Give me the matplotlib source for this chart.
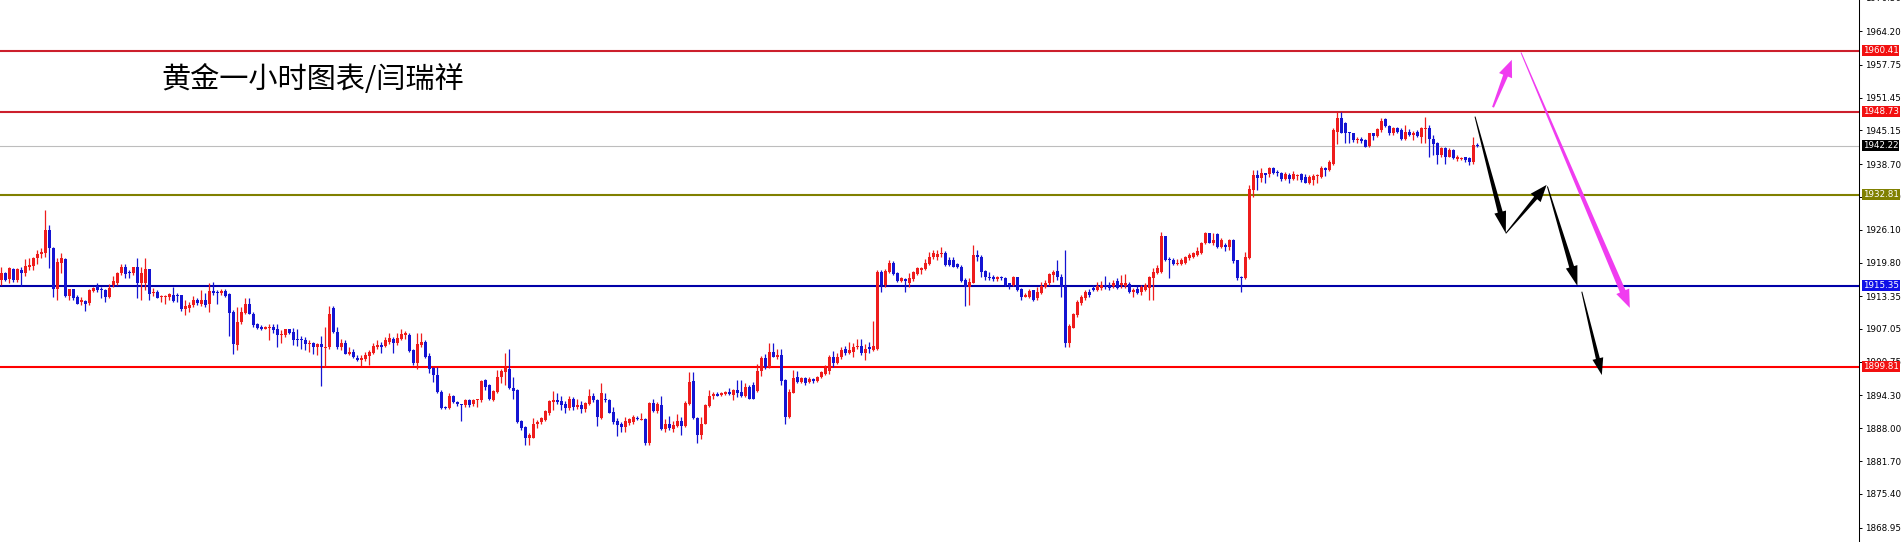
import numpy as np
import matplotlib.pyplot as plt
from matplotlib.patches import Polygon
from matplotlib.transforms import IdentityTransform

plt.rcParams['font.family'] = ['Noto Sans CJK SC', 'DejaVu Sans']

# hourly gold candles (oldest first)
opens = [
    1916.5, 1917.7, 1916.7, 1918.5, 1916.5, 1918.3, 1917.7, 1918.9, 1919.1, 1920.6,
    1921.5, 1921.7, 1926.0, 1922.6, 1914.8, 1919.7, 1920.5, 1913.3, 1914.7, 1913.2,
    1912.3, 1912.4, 1912.1, 1914.4, 1915.3, 1914.6, 1914.6, 1913.2, 1915.5, 1915.9,
    1917.7, 1918.9, 1917.8, 1917.7, 1918.9, 1915.9, 1915.8, 1918.5, 1913.9, 1914.1,
    1913.1, 1913.1, 1913.2, 1913.5, 1913.5, 1913.5, 1910.8, 1911.1, 1911.7, 1912.6,
    1911.9, 1912.7, 1911.9, 1914.3, 1914.2, 1913.9, 1914.3, 1913.7, 1910.3, 1903.9,
    1908.4, 1910.1, 1911.8, 1910.0, 1908.1, 1907.5, 1907.1, 1907.3, 1907.5, 1907.0,
    1905.9, 1905.8, 1907.0, 1906.5, 1905.0, 1905.0, 1904.9, 1904.1, 1904.4, 1903.5,
    1904.1, 1903.4, 1903.5, 1911.0, 1906.5, 1903.5, 1904.4, 1902.2, 1902.7, 1901.5,
    1901.1, 1901.2, 1901.9, 1902.5, 1903.5, 1903.9, 1903.7, 1904.6, 1905.2, 1904.4,
    1905.2, 1905.9, 1905.9, 1903.1, 1900.5, 1903.9, 1904.6, 1901.8, 1899.5, 1898.2,
    1895.0, 1892.1, 1891.8, 1894.2, 1893.1, 1892.6, 1892.4, 1893.5, 1892.6, 1893.4,
    1893.4, 1897.2, 1896.3, 1893.5, 1895.0, 1897.8, 1898.7, 1899.3, 1895.8, 1895.3,
    1889.4, 1888.3, 1886.1, 1886.2, 1888.9, 1889.2, 1889.6, 1891.0, 1893.1, 1893.4,
    1893.2, 1892.6, 1891.8, 1893.7, 1892.0, 1892.5, 1891.6, 1892.6, 1894.2, 1893.5,
    1889.9, 1893.7, 1893.5, 1891.2, 1889.4, 1888.9, 1888.3, 1889.1, 1889.2, 1889.9,
    1889.6, 1889.7, 1885.1, 1892.9, 1891.4, 1892.5, 1887.8, 1888.8, 1887.8, 1888.4,
    1889.4, 1888.4, 1892.6, 1897.1, 1889.9, 1886.7, 1888.9, 1892.3, 1894.2, 1894.6,
    1894.4, 1894.6, 1895.0, 1894.4, 1895.3, 1895.0, 1894.2, 1896.0, 1896.3, 1895.2,
    1898.9, 1901.4, 1899.8, 1902.7, 1901.7, 1902.0, 1897.2, 1890.2, 1894.8, 1897.9,
    1896.9, 1897.6, 1896.9, 1897.4, 1897.1, 1897.8, 1898.4, 1898.9, 1901.6, 1900.6,
    1901.6, 1903.3, 1902.4, 1902.7, 1903.5, 1903.8, 1902.5, 1903.5, 1903.1, 1903.3,
    1918.0, 1915.5, 1918.0, 1919.8, 1917.7, 1916.3, 1916.6, 1915.8, 1916.6, 1917.6,
    1918.4, 1918.5, 1919.6, 1920.8, 1920.8, 1921.4, 1921.6, 1920.3, 1920.3, 1919.5,
    1919.0, 1916.4, 1915.2, 1915.9, 1921.2, 1920.9, 1918.2, 1917.1, 1917.0, 1916.6,
    1917.1, 1916.8, 1915.8, 1915.5, 1917.0, 1914.8, 1913.2, 1913.2, 1914.5, 1912.9,
    1914.0, 1915.2, 1915.8, 1917.4, 1918.2, 1917.1, 1915.3, 1904.4, 1907.3, 1909.7,
    1912.0, 1912.9, 1914.2, 1915.0, 1914.5, 1915.0, 1915.5, 1915.3, 1915.3, 1916.3,
    1915.5, 1915.3, 1915.7, 1914.2, 1914.8, 1914.2, 1914.6, 1915.0, 1916.8, 1917.8,
    1918.0, 1924.8, 1920.4, 1920.3, 1919.5, 1919.5, 1919.8, 1920.6, 1920.9, 1921.2,
    1921.7, 1923.6, 1925.4, 1923.6, 1925.3, 1922.8, 1923.2, 1922.7, 1924.2, 1920.2,
    1917.1, 1916.8, 1920.6, 1933.7, 1936.6, 1936.0, 1936.9, 1936.8, 1937.9, 1937.2,
    1937.0, 1935.8, 1936.6, 1935.8, 1936.4, 1936.8, 1936.3, 1935.1, 1935.6, 1936.4,
    1936.3, 1937.9, 1937.6, 1938.7, 1944.9, 1947.5, 1946.5, 1944.7, 1944.6, 1943.3,
    1943.6, 1943.4, 1942.2, 1944.6, 1944.1, 1945.2, 1947.3, 1946.0, 1944.7, 1945.6,
    1945.2, 1943.6, 1944.9, 1944.3, 1944.9, 1943.8, 1945.4, 1945.6, 1943.6, 1942.8,
    1940.4, 1941.7, 1940.1, 1941.3, 1939.6, 1939.7, 1940.0, 1939.8, 1939.0, 1942.4,
]
highs = [
    1918.9, 1918.0, 1918.9, 1918.7, 1918.7, 1919.0, 1920.4, 1920.6, 1920.9, 1922.2,
    1922.5, 1929.9, 1927.0, 1922.8, 1920.6, 1921.7, 1920.6, 1914.8, 1914.8, 1913.5,
    1913.2, 1912.6, 1914.8, 1915.1, 1915.8, 1915.1, 1914.8, 1915.6, 1917.2, 1918.0,
    1919.5, 1919.5, 1918.3, 1919.0, 1920.6, 1919.0, 1920.6, 1918.6, 1915.0, 1914.5,
    1913.5, 1913.5, 1913.9, 1915.1, 1913.9, 1913.5, 1912.6, 1912.3, 1913.3, 1912.9,
    1914.5, 1913.9, 1915.8, 1916.1, 1914.6, 1914.8, 1914.8, 1913.9, 1910.7, 1911.3,
    1911.3, 1912.9, 1912.9, 1910.3, 1908.2, 1907.8, 1907.6, 1908.1, 1908.1, 1908.0,
    1906.8, 1907.1, 1907.1, 1907.3, 1907.0, 1905.7, 1905.5, 1904.9, 1904.6, 1904.3,
    1905.7, 1907.5, 1911.4, 1911.4, 1907.5, 1905.2, 1905.0, 1903.5, 1903.3, 1902.0,
    1902.0, 1902.7, 1903.1, 1904.4, 1905.0, 1904.6, 1905.5, 1906.3, 1905.5, 1906.3,
    1907.0, 1906.7, 1906.3, 1903.3, 1906.2, 1906.2, 1904.9, 1902.5, 1899.7, 1899.7,
    1895.3, 1892.2, 1894.7, 1894.3, 1893.3, 1892.7, 1893.7, 1893.7, 1893.7, 1893.7,
    1897.3, 1897.5, 1896.5, 1895.3, 1899.2, 1899.3, 1902.5, 1903.3, 1897.9, 1895.6,
    1889.6, 1888.4, 1887.0, 1889.9, 1889.6, 1890.2, 1891.5, 1893.5, 1895.1, 1894.8,
    1894.1, 1893.3, 1894.1, 1893.9, 1893.7, 1893.3, 1893.1, 1895.5, 1894.8, 1893.7,
    1896.7, 1894.8, 1893.7, 1892.0, 1889.9, 1889.2, 1890.1, 1889.9, 1890.5, 1890.3,
    1891.0, 1889.9, 1893.1, 1893.7, 1893.1, 1894.1, 1889.7, 1890.3, 1889.4, 1890.7,
    1890.1, 1893.3, 1898.7, 1898.7, 1890.2, 1890.2, 1892.6, 1895.3, 1895.0, 1895.0,
    1895.0, 1895.1, 1895.8, 1895.6, 1897.2, 1897.2, 1896.6, 1896.3, 1896.9, 1900.3,
    1901.8, 1902.2, 1904.3, 1904.3, 1903.3, 1903.3, 1897.4, 1895.6, 1899.1, 1898.9,
    1897.9, 1897.9, 1897.8, 1897.6, 1898.0, 1898.9, 1900.1, 1902.0, 1902.9, 1902.4,
    1903.6, 1903.8, 1904.6, 1904.4, 1905.2, 1905.1, 1904.2, 1904.6, 1908.6, 1918.4,
    1918.4, 1918.5, 1920.3, 1920.0, 1918.0, 1917.1, 1916.8, 1917.7, 1918.2, 1919.0,
    1919.0, 1920.4, 1921.9, 1922.2, 1922.3, 1922.7, 1922.1, 1920.8, 1920.9, 1919.8,
    1919.3, 1916.8, 1916.8, 1923.2, 1922.2, 1921.2, 1918.4, 1918.0, 1917.4, 1917.2,
    1917.2, 1917.0, 1915.9, 1917.2, 1917.1, 1915.0, 1914.0, 1914.8, 1914.6, 1915.2,
    1916.1, 1916.4, 1917.8, 1918.4, 1920.2, 1917.6, 1922.2, 1908.1, 1910.2, 1912.6,
    1913.6, 1914.5, 1914.8, 1915.5, 1916.1, 1916.3, 1917.2, 1916.1, 1916.4, 1916.8,
    1917.4, 1917.6, 1916.1, 1915.0, 1915.3, 1915.5, 1915.8, 1917.2, 1918.7, 1919.3,
    1925.7, 1924.9, 1920.8, 1920.6, 1920.4, 1920.6, 1921.0, 1921.6, 1921.9, 1922.8,
    1923.8, 1925.7, 1925.5, 1925.4, 1925.4, 1924.6, 1923.6, 1924.4, 1924.4, 1920.3,
    1917.2, 1921.9, 1934.7, 1937.6, 1937.6, 1937.9, 1937.0, 1938.1, 1938.1, 1937.6,
    1937.2, 1937.2, 1936.9, 1937.4, 1936.8, 1936.9, 1936.8, 1936.6, 1936.8, 1936.8,
    1938.3, 1938.2, 1939.4, 1945.6, 1948.6, 1948.6, 1946.8, 1944.9, 1944.7, 1943.8,
    1943.8, 1943.6, 1944.7, 1944.7, 1945.6, 1947.5, 1947.5, 1946.2, 1945.9, 1945.9,
    1945.6, 1946.2, 1945.4, 1945.1, 1945.2, 1945.9, 1947.8, 1946.2, 1944.3, 1943.0,
    1942.0, 1942.0, 1941.7, 1941.5, 1940.4, 1940.1, 1940.1, 1940.0, 1943.8, 1942.7,
]
lows = [
    1915.5, 1916.3, 1915.8, 1916.1, 1916.1, 1915.3, 1917.2, 1918.3, 1918.3, 1919.5,
    1920.6, 1920.9, 1918.7, 1913.2, 1912.6, 1917.7, 1913.2, 1912.6, 1912.7, 1911.8,
    1911.6, 1910.5, 1911.6, 1914.2, 1914.2, 1912.9, 1912.3, 1912.9, 1915.1, 1915.5,
    1917.4, 1916.9, 1916.9, 1917.4, 1912.9, 1912.7, 1914.5, 1912.7, 1913.3, 1912.9,
    1912.3, 1911.9, 1912.6, 1912.3, 1912.3, 1910.5, 1909.7, 1910.3, 1911.3, 1911.6,
    1911.4, 1911.3, 1910.3, 1913.5, 1911.9, 1913.5, 1913.1, 1905.7, 1902.3, 1903.0,
    1908.1, 1910.0, 1909.9, 1907.5, 1907.0, 1906.8, 1907.0, 1904.9, 1906.2, 1903.5,
    1904.4, 1905.5, 1906.1, 1903.9, 1903.7, 1903.3, 1903.1, 1902.7, 1902.3, 1902.0,
    1896.1, 1899.8, 1903.3, 1906.3, 1903.3, 1903.1, 1902.2, 1902.0, 1901.4, 1900.9,
    1899.9, 1900.9, 1900.1, 1902.2, 1903.3, 1902.5, 1903.5, 1904.1, 1902.5, 1903.9,
    1905.0, 1905.2, 1902.7, 1900.1, 1899.3, 1903.5, 1901.4, 1898.6, 1896.9, 1894.8,
    1891.6, 1891.6, 1891.6, 1892.9, 1892.2, 1889.4, 1892.0, 1892.1, 1892.2, 1892.1,
    1893.1, 1895.3, 1893.5, 1893.3, 1894.8, 1896.6, 1896.3, 1895.6, 1893.7, 1889.1,
    1887.6, 1884.8, 1884.8, 1886.1, 1888.0, 1888.9, 1889.4, 1890.5, 1891.5, 1892.6,
    1891.5, 1891.0, 1891.5, 1891.5, 1891.6, 1891.0, 1891.2, 1892.5, 1893.1, 1888.4,
    1889.7, 1893.1, 1890.9, 1888.9, 1886.5, 1887.3, 1887.3, 1888.6, 1888.8, 1889.6,
    1889.6, 1884.8, 1884.8, 1891.2, 1891.0, 1887.6, 1887.3, 1887.6, 1887.3, 1888.2,
    1886.7, 1888.2, 1892.5, 1889.7, 1885.1, 1885.9, 1888.8, 1892.0, 1893.7, 1894.1,
    1894.1, 1894.4, 1894.4, 1893.4, 1894.0, 1894.0, 1894.0, 1893.6, 1893.6, 1895.0,
    1898.0, 1899.3, 1899.5, 1901.6, 1901.2, 1896.3, 1888.9, 1889.9, 1894.7, 1896.6,
    1896.6, 1896.3, 1896.6, 1896.7, 1896.9, 1897.6, 1898.2, 1898.5, 1899.8, 1900.3,
    1901.2, 1902.0, 1902.2, 1901.6, 1903.3, 1902.0, 1901.0, 1902.5, 1902.9, 1903.1,
    1914.2, 1915.2, 1917.7, 1917.4, 1916.1, 1916.1, 1914.2, 1915.2, 1916.3, 1917.4,
    1917.6, 1918.4, 1919.3, 1920.4, 1920.3, 1920.9, 1919.1, 1919.1, 1918.9, 1918.7,
    1916.1, 1911.4, 1911.6, 1915.8, 1920.0, 1917.0, 1916.4, 1916.4, 1916.3, 1916.3,
    1916.4, 1915.3, 1914.8, 1915.3, 1914.4, 1912.7, 1913.1, 1912.9, 1912.5, 1912.7,
    1913.8, 1915.0, 1915.5, 1916.1, 1916.4, 1913.1, 1903.5, 1903.6, 1907.2, 1909.4,
    1911.6, 1912.7, 1913.2, 1914.4, 1914.4, 1914.6, 1914.8, 1914.6, 1915.0, 1914.8,
    1915.0, 1915.0, 1914.0, 1913.2, 1913.8, 1913.6, 1914.4, 1912.7, 1912.6, 1917.6,
    1917.8, 1920.0, 1916.8, 1919.3, 1919.3, 1919.3, 1919.5, 1920.3, 1920.6, 1921.0,
    1921.4, 1923.4, 1923.5, 1923.2, 1922.5, 1922.5, 1922.1, 1922.3, 1919.8, 1916.4,
    1914.2, 1916.6, 1920.4, 1932.4, 1933.7, 1935.3, 1935.0, 1936.2, 1936.8, 1936.4,
    1935.5, 1935.6, 1935.1, 1935.6, 1935.6, 1935.3, 1935.0, 1934.9, 1934.7, 1935.1,
    1936.0, 1936.4, 1937.4, 1938.5, 1942.6, 1944.6, 1942.8, 1942.8, 1943.0, 1942.7,
    1942.8, 1941.9, 1942.0, 1943.4, 1943.8, 1944.9, 1945.9, 1944.3, 1944.3, 1944.7,
    1943.3, 1943.4, 1944.1, 1943.4, 1943.8, 1942.8, 1942.8, 1940.1, 1940.4, 1938.8,
    1940.1, 1938.8, 1940.0, 1939.6, 1939.2, 1939.5, 1939.0, 1938.5, 1938.8, 1942.0,
]
closes = [
    1917.8, 1916.5, 1918.7, 1916.4, 1918.5, 1917.8, 1919.1, 1919.3, 1920.6, 1921.5,
    1921.9, 1926.0, 1922.5, 1914.8, 1919.9, 1920.6, 1913.3, 1914.7, 1912.9, 1911.9,
    1912.7, 1911.9, 1914.5, 1915.0, 1914.6, 1914.5, 1913.2, 1915.0, 1916.3, 1917.8,
    1919.0, 1917.6, 1917.7, 1918.9, 1915.8, 1917.7, 1918.5, 1913.7, 1914.1, 1913.0,
    1913.2, 1913.4, 1913.7, 1912.4, 1913.3, 1910.8, 1911.4, 1911.7, 1912.6, 1912.1,
    1912.7, 1911.6, 1914.3, 1913.9, 1913.9, 1914.3, 1913.3, 1910.1, 1904.1, 1908.4,
    1910.3, 1911.8, 1910.0, 1907.8, 1907.3, 1907.1, 1907.5, 1907.5, 1906.8, 1905.9,
    1906.1, 1907.0, 1906.3, 1905.0, 1904.9, 1904.9, 1904.1, 1904.4, 1903.6, 1904.1,
    1903.5, 1903.6, 1909.9, 1906.5, 1903.5, 1904.4, 1902.3, 1902.7, 1901.6, 1901.1,
    1901.4, 1902.0, 1902.7, 1903.7, 1903.9, 1903.6, 1905.0, 1905.4, 1904.4, 1905.4,
    1906.1, 1906.2, 1902.9, 1900.5, 1904.1, 1904.6, 1901.7, 1899.3, 1898.2, 1895.0,
    1891.8, 1891.8, 1894.2, 1893.1, 1892.6, 1892.4, 1893.5, 1892.4, 1893.5, 1893.5,
    1897.1, 1895.9, 1893.7, 1895.1, 1897.9, 1898.9, 1899.5, 1895.8, 1895.2, 1889.2,
    1888.0, 1886.1, 1886.7, 1888.9, 1889.2, 1889.9, 1891.3, 1893.2, 1893.4, 1893.1,
    1892.5, 1891.8, 1893.7, 1892.0, 1892.5, 1891.6, 1892.8, 1894.2, 1893.4, 1890.1,
    1894.7, 1893.5, 1891.0, 1889.2, 1888.6, 1888.3, 1889.4, 1889.7, 1890.1, 1889.7,
    1889.8, 1885.2, 1892.9, 1891.4, 1892.6, 1887.8, 1888.8, 1888.0, 1888.6, 1889.4,
    1888.4, 1892.9, 1896.9, 1889.9, 1886.7, 1888.9, 1892.5, 1894.2, 1894.6, 1894.2,
    1894.7, 1895.0, 1894.6, 1895.3, 1894.7, 1894.2, 1896.0, 1893.7, 1893.7, 1898.9,
    1901.4, 1899.8, 1902.7, 1901.7, 1902.0, 1897.1, 1890.2, 1895.0, 1897.6, 1896.9,
    1897.6, 1896.7, 1897.4, 1897.1, 1897.9, 1898.7, 1899.5, 1901.6, 1900.6, 1901.7,
    1903.1, 1902.4, 1903.0, 1903.6, 1903.8, 1902.5, 1903.3, 1903.3, 1903.8, 1918.0,
    1915.5, 1918.2, 1919.8, 1917.6, 1916.3, 1916.8, 1916.3, 1916.8, 1918.0, 1918.7,
    1918.7, 1919.8, 1920.9, 1921.6, 1921.4, 1921.6, 1919.3, 1919.3, 1919.0, 1919.0,
    1916.3, 1915.2, 1916.1, 1921.2, 1920.8, 1918.0, 1917.0, 1916.8, 1916.6, 1917.1,
    1916.8, 1915.5, 1915.5, 1917.0, 1914.5, 1913.1, 1913.6, 1914.4, 1912.7, 1914.2,
    1915.3, 1915.9, 1917.6, 1918.0, 1917.0, 1915.2, 1904.4, 1907.6, 1909.9, 1912.3,
    1913.2, 1914.2, 1913.6, 1914.5, 1915.3, 1915.5, 1915.3, 1915.0, 1915.9, 1915.0,
    1915.8, 1915.9, 1914.2, 1914.6, 1914.0, 1915.2, 1915.5, 1917.0, 1918.0, 1918.7,
    1924.8, 1920.2, 1920.2, 1919.5, 1919.8, 1920.2, 1920.8, 1921.2, 1921.6, 1922.1,
    1923.6, 1925.4, 1923.6, 1924.2, 1922.7, 1924.2, 1922.7, 1924.2, 1920.0, 1916.8,
    1916.8, 1920.9, 1934.0, 1936.6, 1936.0, 1937.0, 1936.6, 1937.9, 1937.0, 1936.9,
    1935.8, 1936.8, 1935.8, 1936.8, 1936.6, 1935.6, 1935.1, 1936.2, 1936.4, 1936.6,
    1937.9, 1937.6, 1939.0, 1945.2, 1947.5, 1944.7, 1944.7, 1944.6, 1943.4, 1943.6,
    1943.2, 1942.0, 1944.6, 1944.1, 1945.4, 1947.0, 1946.0, 1944.7, 1945.6, 1944.9,
    1943.6, 1944.9, 1944.3, 1944.7, 1944.1, 1945.6, 1945.6, 1943.6, 1942.6, 1940.4,
    1941.7, 1940.1, 1941.4, 1939.8, 1940.0, 1939.9, 1939.4, 1939.0, 1942.4, 1942.2,
]

# support / resistance lines and their price tags
levels = [1960.41, 1948.73, 1942.22, 1932.81, 1915.35, 1899.81]
line_colors = ['#cc1f2c', '#cc1f2c', '#bdbdbd', '#808000', '#0000a8', '#ff0000']
line_widths = [1.5, 1.5, 0.8, 1.5, 1.5, 1.5]
tag_colors = ['#f21010', '#f21010', '#000000', '#808000', '#1010e8', '#f21010']

yticks = [1964.20, 1957.75, 1951.45, 1945.15, 1938.70, 1932.40, 1926.10, 1919.80,
          1913.35, 1907.05, 1900.75, 1894.30, 1888.00, 1881.70, 1875.40, 1868.95]

title = '黄金一小时图表/闫瑞祥'

fig = plt.figure(figsize=(19.03, 5.42), dpi=100)
ax = fig.add_axes([0, 0, 1859 / 1903, 1])
ax.set_xlim(-0.375, 464.4)
ax.set_ylim(1866.17, 1970.18)

for lv, c, lw in zip(levels, line_colors, line_widths):
    ax.axhline(lv, color=c, lw=lw, zorder=1)

o = np.array(opens)
c = np.array(closes)
x = np.arange(len(o))
up = c >= o
cols = np.where(up, '#ee1c1c', '#1414d2')
ax.vlines(x, lows, highs, colors=cols, lw=0.9, zorder=2)
body = np.maximum(np.abs(c - o), 0.2)
ax.bar(x, body, bottom=np.minimum(o, c), width=0.75, color=cols, linewidth=0, zorder=3)

# right price scale, MT4 style
for s in ['top', 'left', 'bottom']:
    ax.spines[s].set_visible(False)
ax.spines['right'].set_linewidth(0.75)
ax.yaxis.tick_right()
ax.set_xticks([])
ax.set_yticks(yticks)
ax.set_yticklabels([f'{v:.2f}' for v in yticks], family='DejaVu Sans')
ax.tick_params(axis='y', length=2.5, width=0.7, labelsize=6.3, pad=1.5)
ax.annotate('1970.50', xy=(1, 1970.5), xycoords=('axes fraction', 'data'),
            xytext=(4.3, 0), textcoords='offset points', va='center',
            fontsize=6.3, family='DejaVu Sans', annotation_clip=False)

for lv, tc in zip(levels, tag_colors):
    ax.annotate(f'{lv:.2f}', xy=(1, lv), xycoords=('axes fraction', 'data'),
                xytext=(2.6, 0), textcoords='offset points', va='center',
                fontsize=6.3, family='DejaVu Sans', color='white', annotation_clip=False,
                bbox=dict(boxstyle='square,pad=0.12', fc=tc, ec='none'), zorder=6)

ax.text(161 / 1859, 1 - 80 / 542, title, transform=ax.transAxes, fontsize=21,
        ha='left', va='center', color='black')


def arrow(tail, tip, w0, w1, hw, hl, color):
    # tapered arrow drawn in pixel space so the head keeps its shape
    p0 = ax.transData.transform(tail)
    p1 = ax.transData.transform(tip)
    d = p1 - p0
    u = d / np.hypot(*d)
    n = np.array([-u[1], u[0]])
    b = p1 - u * hl
    pts = [p0 + n * w0 / 2, b + n * w1 / 2, b + n * hw / 2, p1,
           b - n * hw / 2, b - n * w1 / 2, p0 - n * w0 / 2]
    ax.add_patch(Polygon(pts, closed=True, fc=color, ec='none',
                         transform=IdentityTransform(), zorder=5))


pink = '#f03cf0'
arrow((372.9, 1949.6), (377.6, 1958.7), 2, 5, 14, 17, pink)
arrow((379.9, 1960.1), (407.1, 1911.1), 1, 6, 14, 18, pink)
arrow((368.4, 1947.8), (376.1, 1925.4), 1, 5, 12, 22, 'black')
arrow((376.1, 1925.4), (386.3, 1934.7), 1, 4, 13, 17, 'black')
arrow((386.5, 1934.4), (394.0, 1915.3), 1, 5, 12, 20, 'black')
arrow((395.1, 1914.2), (400.1, 1898.2), 1, 4, 11, 17, 'black')

plt.savefig('out.png', dpi=100)
